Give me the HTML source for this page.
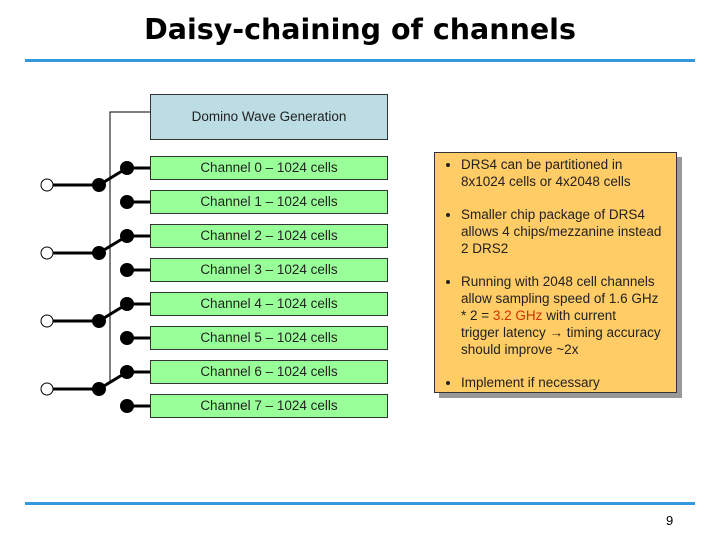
<!DOCTYPE html>
<html><head><meta charset="utf-8"><style>
body{margin:0;width:720px;height:540px;background:#fff;position:relative;overflow:hidden;font-family:"Liberation Sans",sans-serif;}
.t{position:absolute;left:0;width:720px;top:13px;text-align:center;font-weight:bold;font-size:28.5px;font-family:"DejaVu Sans",sans-serif;color:#000;}
.hl{position:absolute;left:25px;width:670px;height:3px;background:#3399dd;}
.box{position:absolute;left:150px;width:238px;border:1px solid #333;font-size:13.5px;color:#222;text-align:center;box-sizing:border-box;}
.ch{height:24px;line-height:22px;background:#99ff99;}
.note{position:absolute;left:434px;top:152px;width:243px;height:241px;background:#ffcc66;border:1px solid #333;box-sizing:border-box;box-shadow:5px 5px 0 #999;font-size:13.5px;color:#222;}
.note ul{margin:0;padding:3px 0 0 26px;}
.note li{margin-bottom:16px;line-height:17px;white-space:nowrap;}
</style></head><body>
<div class="t">Daisy-chaining of channels</div>
<div class="hl" style="top:59px"></div>
<div class="hl" style="top:502px"></div>
<div style="position:absolute;left:666px;top:513px;font-size:13px;">9</div>
<div class="box" style="top:94px;height:46px;line-height:44px;background:#bbdde3;">Domino Wave Generation</div>
<div class="box ch" style="top:156px">Channel 0 – 1024 cells</div>
<div class="box ch" style="top:190px">Channel 1 – 1024 cells</div>
<div class="box ch" style="top:224px">Channel 2 – 1024 cells</div>
<div class="box ch" style="top:258px">Channel 3 – 1024 cells</div>
<div class="box ch" style="top:292px">Channel 4 – 1024 cells</div>
<div class="box ch" style="top:326px">Channel 5 – 1024 cells</div>
<div class="box ch" style="top:360px">Channel 6 – 1024 cells</div>
<div class="box ch" style="top:394px">Channel 7 – 1024 cells</div>
<svg width="720" height="540" style="position:absolute;left:0;top:0">
<polyline points="150,112 110,112 110,382" stroke="#000" stroke-width="1" fill="none"/>
<g stroke="#000" stroke-width="3" fill="none">
<line x1="127" y1="168" x2="150" y2="168"/><line x1="127" y1="202" x2="150" y2="202"/>
<line x1="127" y1="236" x2="150" y2="236"/><line x1="127" y1="270" x2="150" y2="270"/>
<line x1="127" y1="304" x2="150" y2="304"/><line x1="127" y1="338" x2="150" y2="338"/>
<line x1="127" y1="372" x2="150" y2="372"/><line x1="127" y1="406" x2="150" y2="406"/>
<polyline points="47,185 99,185 127,168"/>
<polyline points="47,253 99,253 127,236"/>
<polyline points="47,321 99,321 127,304"/>
<polyline points="47,389 99,389 127,372"/>
</g>
<g fill="#000">
<circle cx="127" cy="168" r="7"/><circle cx="127" cy="202" r="7"/><circle cx="127" cy="236" r="7"/><circle cx="127" cy="270" r="7"/>
<circle cx="127" cy="304" r="7"/><circle cx="127" cy="338" r="7"/><circle cx="127" cy="372" r="7"/><circle cx="127" cy="406" r="7"/>
<circle cx="99" cy="185" r="7"/><circle cx="99" cy="253" r="7"/><circle cx="99" cy="321" r="7"/><circle cx="99" cy="389" r="7"/>
</g>
<g fill="#fff" stroke="#000" stroke-width="1">
<circle cx="47" cy="185" r="6"/><circle cx="47" cy="253" r="6"/><circle cx="47" cy="321" r="6"/><circle cx="47" cy="389" r="6"/>
</g>
</svg>
<div class="note"><ul>
<li>DRS4 can be partitioned in<br>8x1024 cells or 4x2048 cells</li>
<li>Smaller chip package of DRS4<br>allows 4 chips/mezzanine instead<br>2 DRS2</li>
<li>Running with 2048 cell channels<br>allow sampling speed of 1.6 GHz<br>* 2 = <span style="color:#cc3300">3.2 GHz</span> with current<br>trigger latency → timing accuracy<br>should improve ~2x</li>
<li>Implement if necessary</li>
</ul></div>
</body></html>
